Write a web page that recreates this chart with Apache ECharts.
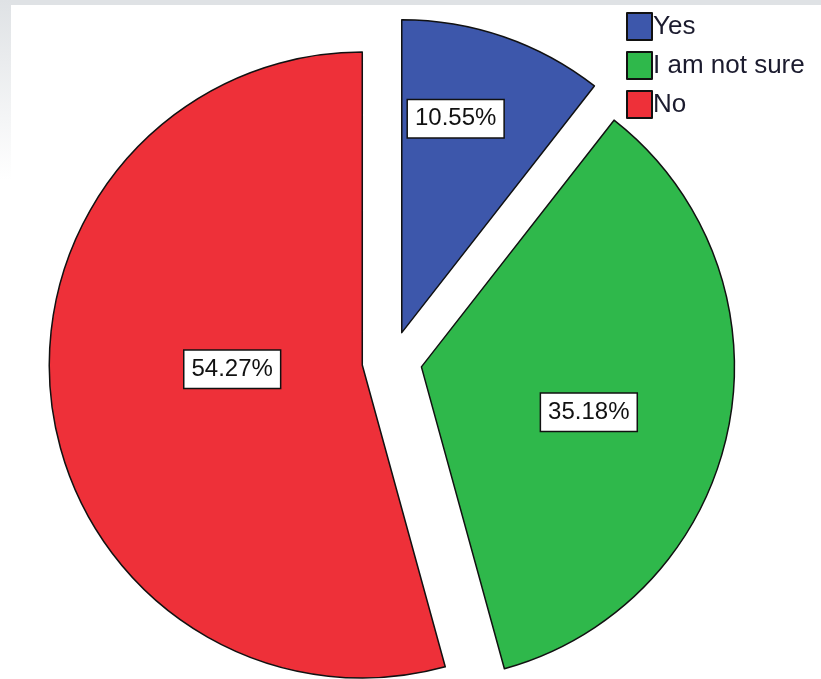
<!DOCTYPE html>
<html>
<head>
<meta charset="utf-8">
<script src="https://cdn.jsdelivr.net/npm/echarts@6/dist/echarts.min.js"></script>
<style>
html,body{margin:0;padding:0;background:#fff;}
#chart{width:821px;height:679px;}
</style>
</head>
<body>
<div id="chart"></div>
<script>
// ---- data ----
const categories = ['Yes', 'I am not sure', 'No'];
const percents = [10.55, 35.18, 54.27];
const colors = ['#3d57ab', '#2fb84b', '#ee3039'];
// label nudges (style only)
const labelShift = [[2, -63], [11, 14], [28, -17]];

const FONT = "'Liberation Sans', Arial, sans-serif";

const chart = echarts.init(document.getElementById('chart'), null, {renderer: 'canvas'});
chart.setOption({
  animation: false,
  backgroundColor: '#ffffff',
  graphic: [
    {type: 'rect', shape: {x: 0, y: 0, width: 821, height: 5}, style: {fill: '#dfe2e5'}, silent: true, z: -1},
    {type: 'rect', shape: {x: 0, y: 0, width: 11, height: 180}, silent: true, z: -1,
      style: {fill: new echarts.graphic.LinearGradient(0, 0, 0, 1, [
        {offset: 0, color: '#dfe2e5'}, {offset: 1, color: '#ffffff'}])}}
  ],
  legend: {
    orient: 'vertical',
    left: 621,
    top: 7,
    itemWidth: 25,
    itemHeight: 27,
    itemGap: 10,
    icon: 'rect',
    selectedMode: false,
    textStyle: {fontFamily: FONT, fontSize: 26, color: '#1b1b2e', padding: [0, 0, 0, -4]},
    data: categories
  },
  series: [{
    type: 'pie',
    center: [392, 361],
    radius: [0, 313],
    startAngle: 90,
    clockwise: true,
    selectedMode: 'multiple',
    selectedOffset: 30,
    avoidLabelOverlap: false,
    emphasis: {disabled: true},
    itemStyle: {borderColor: '#111', borderWidth: 1.5},
    label: {
      show: true,
      position: 'inside',
      formatter: p => p.value.toFixed(2) + '%',
      fontFamily: FONT,
      fontSize: 24,
      color: '#111',
      backgroundColor: '#ffffff',
      borderColor: '#111',
      borderWidth: 1.5,
      padding: [7, 7, 6, 7]
    },
    labelLine: {show: false},
    labelLayout: p => ({dx: labelShift[p.dataIndex][0], dy: labelShift[p.dataIndex][1]}),
    data: categories.map((c, i) => ({
      name: c, value: percents[i], selected: true,
      itemStyle: {color: colors[i]}
    }))
  }]
});
</script>
</body>
</html>
